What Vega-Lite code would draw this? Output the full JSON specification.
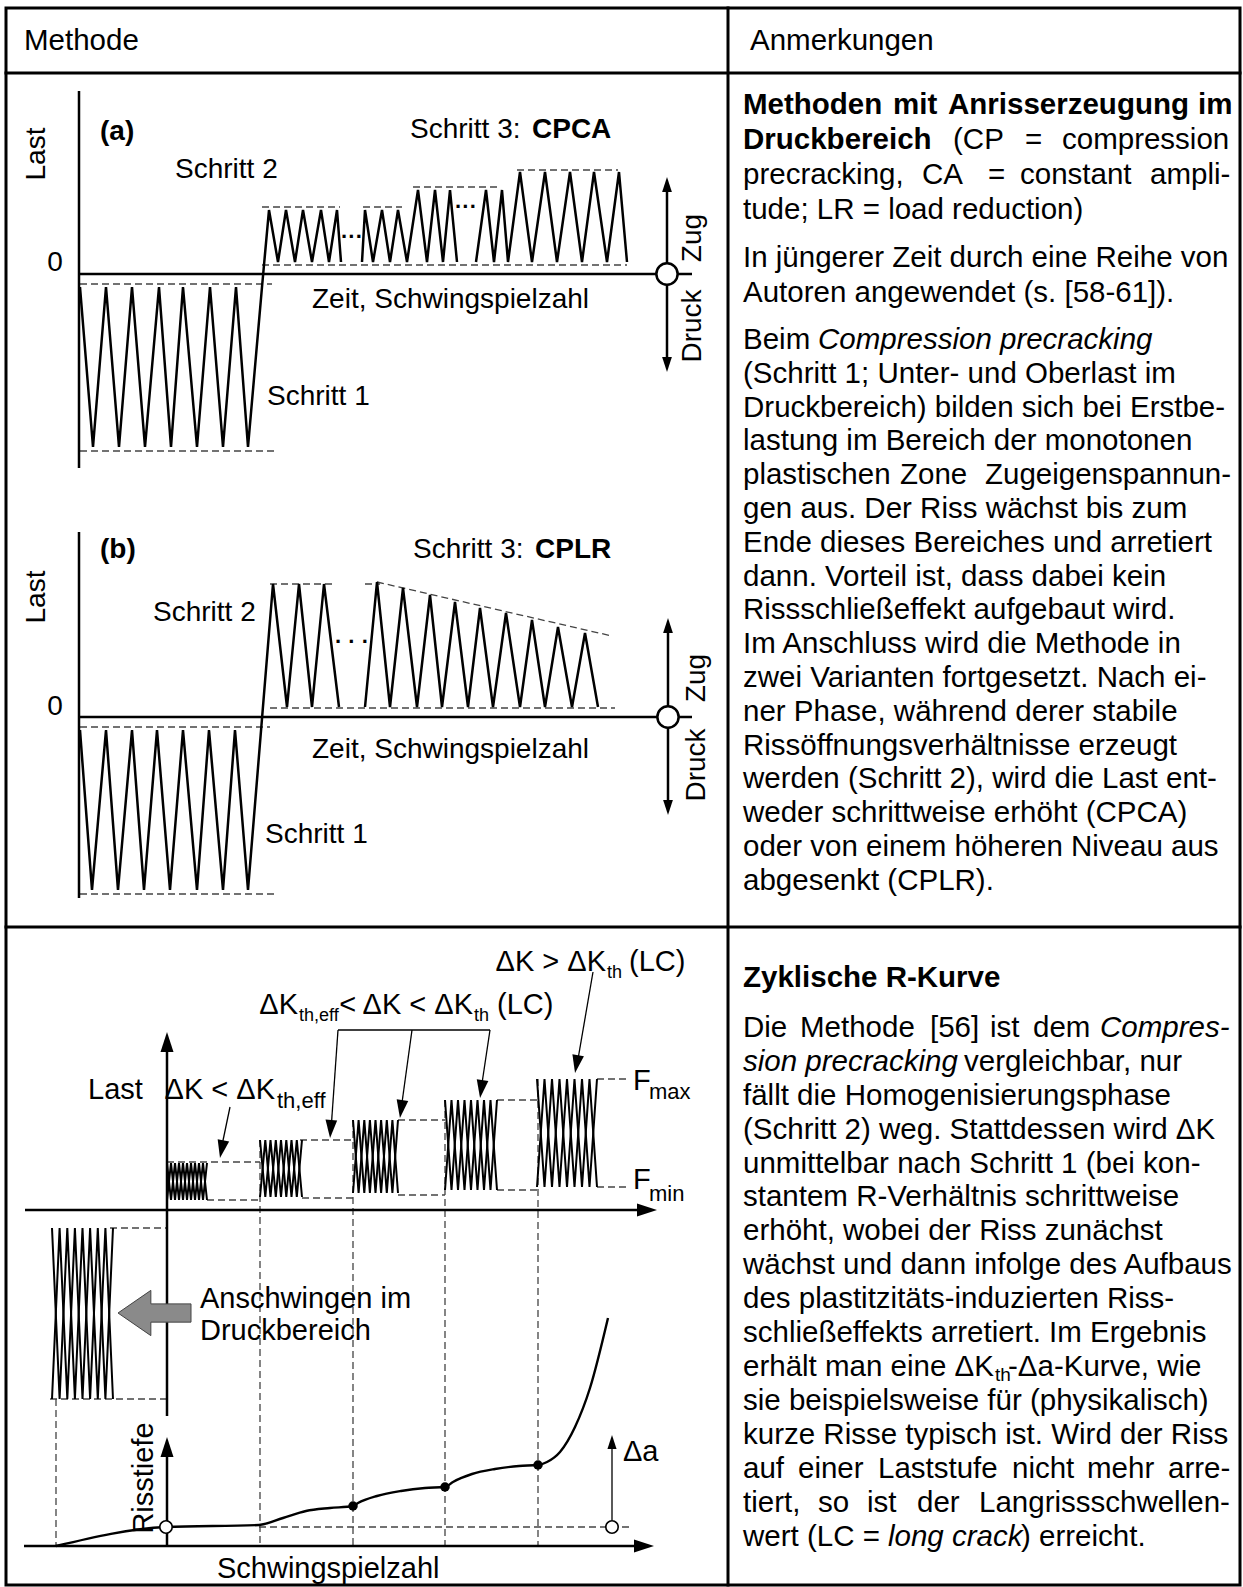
{
"$schema":"https://vega.github.io/schema/vega-lite/v6.json",
"width":1243,"height":1587,"autosize":{"type":"none"},"padding":0,"background":"white",
"config":{"view":{"stroke":null},"text":{"font":"Liberation Sans"}},
"datasets":{
"ln":[
{"g":"b1","k":"border","x":6,"y":8},{"g":"b1","k":"border","x":1240,"y":8},{"g":"b1","k":"border","x":1240,"y":1585},{"g":"b1","k":"border","x":6,"y":1585},{"g":"b1","k":"border","x":6,"y":8},
{"g":"b2","k":"border","x":6,"y":73},{"g":"b2","k":"border","x":1240,"y":73},
{"g":"b3","k":"border","x":6,"y":927},{"g":"b3","k":"border","x":1240,"y":927},
{"g":"b4","k":"border","x":728,"y":8},{"g":"b4","k":"border","x":728,"y":1585},
{"g":"sa1","k":"solid","x":79,"y":91},{"g":"sa1","k":"solid","x":79,"y":468},
{"g":"sa2","k":"solid","x":79,"y":274},{"g":"sa2","k":"solid","x":692,"y":274},
{"g":"sa3","k":"solid","x":667,"y":186},{"g":"sa3","k":"solid","x":667,"y":365},
{"g":"sa4","k":"solid","x":80,"y":287},{"g":"sa4","k":"solid","x":93,"y":447},{"g":"sa4","k":"solid","x":106,"y":287},{"g":"sa4","k":"solid","x":119,"y":447},{"g":"sa4","k":"solid","x":132,"y":287},{"g":"sa4","k":"solid","x":145,"y":447},{"g":"sa4","k":"solid","x":159,"y":287},{"g":"sa4","k":"solid","x":171,"y":447},{"g":"sa4","k":"solid","x":183,"y":287},{"g":"sa4","k":"solid","x":197,"y":447},{"g":"sa4","k":"solid","x":210,"y":287},{"g":"sa4","k":"solid","x":223,"y":447},{"g":"sa4","k":"solid","x":236,"y":287},{"g":"sa4","k":"solid","x":248,"y":447},{"g":"sa4","k":"solid","x":262,"y":287},{"g":"sa4","k":"solid","x":264,"y":265},{"g":"sa4","k":"solid","x":269,"y":210},{"g":"sa4","k":"solid","x":278,"y":262},{"g":"sa4","k":"solid","x":286,"y":210},{"g":"sa4","k":"solid","x":295,"y":262},{"g":"sa4","k":"solid","x":303,"y":210},{"g":"sa4","k":"solid","x":312,"y":262},{"g":"sa4","k":"solid","x":321,"y":210},{"g":"sa4","k":"solid","x":329,"y":262},{"g":"sa4","k":"solid","x":337,"y":210},{"g":"sa4","k":"solid","x":341,"y":262},
{"g":"sa5","k":"solid","x":362,"y":262},{"g":"sa5","k":"solid","x":365,"y":210},{"g":"sa5","k":"solid","x":373,"y":262},{"g":"sa5","k":"solid","x":382,"y":210},{"g":"sa5","k":"solid","x":390,"y":262},{"g":"sa5","k":"solid","x":398,"y":210},{"g":"sa5","k":"solid","x":407,"y":262},{"g":"sa5","k":"solid","x":418,"y":190},{"g":"sa5","k":"solid","x":427,"y":262},{"g":"sa5","k":"solid","x":435,"y":190},{"g":"sa5","k":"solid","x":443,"y":262},{"g":"sa5","k":"solid","x":450,"y":190},{"g":"sa5","k":"solid","x":457,"y":262},
{"g":"sa6","k":"solid","x":476,"y":262},{"g":"sa6","k":"solid","x":486,"y":190},{"g":"sa6","k":"solid","x":494,"y":262},{"g":"sa6","k":"solid","x":502,"y":190},{"g":"sa6","k":"solid","x":508,"y":262},{"g":"sa6","k":"solid","x":520,"y":172},{"g":"sa6","k":"solid","x":532,"y":262},{"g":"sa6","k":"solid","x":545,"y":172},{"g":"sa6","k":"solid","x":557,"y":262},{"g":"sa6","k":"solid","x":570,"y":172},{"g":"sa6","k":"solid","x":582,"y":262},{"g":"sa6","k":"solid","x":594,"y":172},{"g":"sa6","k":"solid","x":607,"y":262},{"g":"sa6","k":"solid","x":619,"y":172},{"g":"sa6","k":"solid","x":627,"y":262},
{"g":"sb1","k":"solid","x":79,"y":532},{"g":"sb1","k":"solid","x":79,"y":898},
{"g":"sb2","k":"solid","x":79,"y":717},{"g":"sb2","k":"solid","x":692,"y":717},
{"g":"sb3","k":"solid","x":668,"y":627},{"g":"sb3","k":"solid","x":668,"y":807},
{"g":"sb4","k":"solid","x":80,"y":730},{"g":"sb4","k":"solid","x":92,"y":890},{"g":"sb4","k":"solid","x":106,"y":730},{"g":"sb4","k":"solid","x":118,"y":890},{"g":"sb4","k":"solid","x":132,"y":730},{"g":"sb4","k":"solid","x":144,"y":890},{"g":"sb4","k":"solid","x":157,"y":730},{"g":"sb4","k":"solid","x":170,"y":890},{"g":"sb4","k":"solid","x":183,"y":730},{"g":"sb4","k":"solid","x":197,"y":890},{"g":"sb4","k":"solid","x":209,"y":730},{"g":"sb4","k":"solid","x":223,"y":890},{"g":"sb4","k":"solid","x":235,"y":730},{"g":"sb4","k":"solid","x":248,"y":890},{"g":"sb4","k":"solid","x":273,"y":584},{"g":"sb4","k":"solid","x":287,"y":707},{"g":"sb4","k":"solid","x":299,"y":584},{"g":"sb4","k":"solid","x":312,"y":707},{"g":"sb4","k":"solid","x":324,"y":584},{"g":"sb4","k":"solid","x":339,"y":707},
{"g":"sb5","k":"solid","x":365,"y":707},{"g":"sb5","k":"solid","x":377,"y":582},{"g":"sb5","k":"solid","x":390,"y":707},{"g":"sb5","k":"solid","x":403,"y":588},{"g":"sb5","k":"solid","x":417,"y":707},{"g":"sb5","k":"solid","x":430,"y":595},{"g":"sb5","k":"solid","x":442,"y":707},{"g":"sb5","k":"solid","x":455,"y":602},{"g":"sb5","k":"solid","x":468,"y":707},{"g":"sb5","k":"solid","x":480,"y":608},{"g":"sb5","k":"solid","x":493,"y":707},{"g":"sb5","k":"solid","x":506,"y":613},{"g":"sb5","k":"solid","x":520,"y":707},{"g":"sb5","k":"solid","x":532,"y":620},{"g":"sb5","k":"solid","x":545,"y":707},{"g":"sb5","k":"solid","x":558,"y":627},{"g":"sb5","k":"solid","x":572,"y":707},{"g":"sb5","k":"solid","x":585,"y":633},{"g":"sb5","k":"solid","x":598,"y":707},
{"g":"sc1","k":"solid","x":167,"y":1044},{"g":"sc1","k":"solid","x":167,"y":1416},
{"g":"sc2","k":"solid","x":25,"y":1210},{"g":"sc2","k":"solid","x":645,"y":1210},
{"g":"sc3","k":"solid","x":167,"y":1546},{"g":"sc3","k":"solid","x":167,"y":1450},
{"g":"sc4","k":"solid","x":24,"y":1546},{"g":"sc4","k":"solid","x":642,"y":1546},
{"g":"G1A","k":"grp","x":167,"y":1200},{"g":"G1A","k":"grp","x":171,"y":1163},{"g":"G1A","k":"grp","x":175,"y":1200},{"g":"G1A","k":"grp","x":179,"y":1163},{"g":"G1A","k":"grp","x":183,"y":1200},{"g":"G1A","k":"grp","x":187,"y":1163},{"g":"G1A","k":"grp","x":191,"y":1200},{"g":"G1A","k":"grp","x":195,"y":1163},{"g":"G1A","k":"grp","x":199,"y":1200},{"g":"G1A","k":"grp","x":203,"y":1163},{"g":"G1A","k":"grp","x":207,"y":1200},
{"g":"G1B","k":"grp","x":167,"y":1163},{"g":"G1B","k":"grp","x":171,"y":1200},{"g":"G1B","k":"grp","x":175,"y":1163},{"g":"G1B","k":"grp","x":179,"y":1200},{"g":"G1B","k":"grp","x":183,"y":1163},{"g":"G1B","k":"grp","x":187,"y":1200},{"g":"G1B","k":"grp","x":191,"y":1163},{"g":"G1B","k":"grp","x":195,"y":1200},{"g":"G1B","k":"grp","x":199,"y":1163},{"g":"G1B","k":"grp","x":203,"y":1200},{"g":"G1B","k":"grp","x":207,"y":1163},
{"g":"G2A","k":"grp","x":260,"y":1197},{"g":"G2A","k":"grp","x":265.3,"y":1140},{"g":"G2A","k":"grp","x":270.5,"y":1197},{"g":"G2A","k":"grp","x":275.8,"y":1140},{"g":"G2A","k":"grp","x":281,"y":1197},{"g":"G2A","k":"grp","x":286.3,"y":1140},{"g":"G2A","k":"grp","x":291.5,"y":1197},{"g":"G2A","k":"grp","x":296.8,"y":1140},{"g":"G2A","k":"grp","x":302,"y":1197},
{"g":"G2B","k":"grp","x":260,"y":1140},{"g":"G2B","k":"grp","x":265.3,"y":1197},{"g":"G2B","k":"grp","x":270.5,"y":1140},{"g":"G2B","k":"grp","x":275.8,"y":1197},{"g":"G2B","k":"grp","x":281,"y":1140},{"g":"G2B","k":"grp","x":286.3,"y":1197},{"g":"G2B","k":"grp","x":291.5,"y":1140},{"g":"G2B","k":"grp","x":296.8,"y":1197},{"g":"G2B","k":"grp","x":302,"y":1140},
{"g":"G3A","k":"grp","x":353,"y":1193},{"g":"G3A","k":"grp","x":358.6,"y":1120},{"g":"G3A","k":"grp","x":364.3,"y":1193},{"g":"G3A","k":"grp","x":369.9,"y":1120},{"g":"G3A","k":"grp","x":375.5,"y":1193},{"g":"G3A","k":"grp","x":381.1,"y":1120},{"g":"G3A","k":"grp","x":386.8,"y":1193},{"g":"G3A","k":"grp","x":392.4,"y":1120},{"g":"G3A","k":"grp","x":398,"y":1193},
{"g":"G3B","k":"grp","x":353,"y":1120},{"g":"G3B","k":"grp","x":358.6,"y":1193},{"g":"G3B","k":"grp","x":364.3,"y":1120},{"g":"G3B","k":"grp","x":369.9,"y":1193},{"g":"G3B","k":"grp","x":375.5,"y":1120},{"g":"G3B","k":"grp","x":381.1,"y":1193},{"g":"G3B","k":"grp","x":386.8,"y":1120},{"g":"G3B","k":"grp","x":392.4,"y":1193},{"g":"G3B","k":"grp","x":398,"y":1120},
{"g":"G4A","k":"grp","x":445,"y":1190},{"g":"G4A","k":"grp","x":451.5,"y":1100},{"g":"G4A","k":"grp","x":458,"y":1190},{"g":"G4A","k":"grp","x":464.5,"y":1100},{"g":"G4A","k":"grp","x":471,"y":1190},{"g":"G4A","k":"grp","x":477.5,"y":1100},{"g":"G4A","k":"grp","x":484,"y":1190},{"g":"G4A","k":"grp","x":490.5,"y":1100},{"g":"G4A","k":"grp","x":497,"y":1190},
{"g":"G4B","k":"grp","x":445,"y":1100},{"g":"G4B","k":"grp","x":451.5,"y":1190},{"g":"G4B","k":"grp","x":458,"y":1100},{"g":"G4B","k":"grp","x":464.5,"y":1190},{"g":"G4B","k":"grp","x":471,"y":1100},{"g":"G4B","k":"grp","x":477.5,"y":1190},{"g":"G4B","k":"grp","x":484,"y":1100},{"g":"G4B","k":"grp","x":490.5,"y":1190},{"g":"G4B","k":"grp","x":497,"y":1100},
{"g":"G5A","k":"grp","x":537,"y":1187},{"g":"G5A","k":"grp","x":544.5,"y":1079},{"g":"G5A","k":"grp","x":552,"y":1187},{"g":"G5A","k":"grp","x":559.5,"y":1079},{"g":"G5A","k":"grp","x":567,"y":1187},{"g":"G5A","k":"grp","x":574.5,"y":1079},{"g":"G5A","k":"grp","x":582,"y":1187},{"g":"G5A","k":"grp","x":589.5,"y":1079},{"g":"G5A","k":"grp","x":597,"y":1187},
{"g":"G5B","k":"grp","x":537,"y":1079},{"g":"G5B","k":"grp","x":544.5,"y":1187},{"g":"G5B","k":"grp","x":552,"y":1079},{"g":"G5B","k":"grp","x":559.5,"y":1187},{"g":"G5B","k":"grp","x":567,"y":1079},{"g":"G5B","k":"grp","x":574.5,"y":1187},{"g":"G5B","k":"grp","x":582,"y":1079},{"g":"G5B","k":"grp","x":589.5,"y":1187},{"g":"G5B","k":"grp","x":597,"y":1079},
{"g":"CA","k":"grp","x":52,"y":1399},{"g":"CA","k":"grp","x":59.6,"y":1228},{"g":"CA","k":"grp","x":67.3,"y":1399},{"g":"CA","k":"grp","x":74.9,"y":1228},{"g":"CA","k":"grp","x":82.5,"y":1399},{"g":"CA","k":"grp","x":90.1,"y":1228},{"g":"CA","k":"grp","x":97.8,"y":1399},{"g":"CA","k":"grp","x":105.4,"y":1228},{"g":"CA","k":"grp","x":113,"y":1399},
{"g":"CB","k":"grp","x":52,"y":1228},{"g":"CB","k":"grp","x":59.6,"y":1399},{"g":"CB","k":"grp","x":67.3,"y":1228},{"g":"CB","k":"grp","x":74.9,"y":1399},{"g":"CB","k":"grp","x":82.5,"y":1228},{"g":"CB","k":"grp","x":90.1,"y":1399},{"g":"CB","k":"grp","x":97.8,"y":1228},{"g":"CB","k":"grp","x":105.4,"y":1399},{"g":"CB","k":"grp","x":113,"y":1228},
{"g":"t1","k":"thin","x":230,"y":1107},{"g":"t1","k":"thin","x":221,"y":1150},
{"g":"t2","k":"thin","x":338,"y":1030},{"g":"t2","k":"thin","x":490,"y":1030},
{"g":"t3","k":"thin","x":338,"y":1030},{"g":"t3","k":"thin","x":331,"y":1130},
{"g":"t4","k":"thin","x":412,"y":1030},{"g":"t4","k":"thin","x":401,"y":1110},
{"g":"t5","k":"thin","x":490,"y":1030},{"g":"t5","k":"thin","x":481,"y":1090},
{"g":"t6","k":"thin","x":593,"y":972},{"g":"t6","k":"thin","x":577,"y":1065},
{"g":"t7","k":"thin","x":612,"y":1520},{"g":"t7","k":"thin","x":612,"y":1442},
{"g":"da1","k":"dash","x":80,"y":284},{"g":"da1","k":"dash","x":272,"y":284},
{"g":"da2","k":"dash","x":80,"y":451},{"g":"da2","k":"dash","x":275,"y":451},
{"g":"da3","k":"dash","x":262,"y":207},{"g":"da3","k":"dash","x":340,"y":207},
{"g":"da4","k":"dash","x":363,"y":207},{"g":"da4","k":"dash","x":402,"y":207},
{"g":"da5","k":"dash","x":413,"y":187},{"g":"da5","k":"dash","x":500,"y":187},
{"g":"da6","k":"dash","x":517,"y":170},{"g":"da6","k":"dash","x":618,"y":170},
{"g":"da7","k":"dash","x":262,"y":265},{"g":"da7","k":"dash","x":627,"y":265},
{"g":"db1","k":"dash","x":80,"y":727},{"g":"db1","k":"dash","x":270,"y":727},
{"g":"db2","k":"dash","x":80,"y":894},{"g":"db2","k":"dash","x":275,"y":894},
{"g":"db3","k":"dash","x":270,"y":584},{"g":"db3","k":"dash","x":332,"y":584},
{"g":"db4","k":"dash","x":365,"y":584},{"g":"db4","k":"dash","x":380,"y":584},
{"g":"db5","k":"dash","x":377,"y":582},{"g":"db5","k":"dash","x":612,"y":636},
{"g":"db6","k":"dash","x":270,"y":708},{"g":"db6","k":"dash","x":615,"y":708},
{"g":"dc1","k":"dash","x":167,"y":1162},{"g":"dc1","k":"dash","x":260,"y":1162},
{"g":"dc2","k":"dash","x":300,"y":1140},{"g":"dc2","k":"dash","x":353,"y":1140},
{"g":"dc3","k":"dash","x":398,"y":1120},{"g":"dc3","k":"dash","x":445,"y":1120},
{"g":"dc4","k":"dash","x":497,"y":1100},{"g":"dc4","k":"dash","x":538,"y":1100},
{"g":"dc5","k":"dash","x":597,"y":1079},{"g":"dc5","k":"dash","x":630,"y":1079},
{"g":"dc6","k":"dash","x":207,"y":1200},{"g":"dc6","k":"dash","x":260,"y":1200},
{"g":"dc7","k":"dash","x":302,"y":1198},{"g":"dc7","k":"dash","x":353,"y":1198},
{"g":"dc8","k":"dash","x":398,"y":1195},{"g":"dc8","k":"dash","x":445,"y":1195},
{"g":"dc9","k":"dash","x":497,"y":1190},{"g":"dc9","k":"dash","x":538,"y":1190},
{"g":"dc10","k":"dash","x":597,"y":1187},{"g":"dc10","k":"dash","x":630,"y":1187},
{"g":"dc11","k":"dash","x":260,"y":1140},{"g":"dc11","k":"dash","x":260,"y":1546},
{"g":"dc12","k":"dash","x":353,"y":1120},{"g":"dc12","k":"dash","x":353,"y":1546},
{"g":"dc13","k":"dash","x":445,"y":1100},{"g":"dc13","k":"dash","x":445,"y":1546},
{"g":"dc14","k":"dash","x":538,"y":1079},{"g":"dc14","k":"dash","x":538,"y":1546},
{"g":"dc15","k":"dash","x":110,"y":1228},{"g":"dc15","k":"dash","x":167,"y":1228},
{"g":"dc16","k":"dash","x":50,"y":1399},{"g":"dc16","k":"dash","x":167,"y":1399},
{"g":"dc17","k":"dash","x":56,"y":1399},{"g":"dc17","k":"dash","x":56,"y":1546},
{"g":"dc18","k":"dash","x":259,"y":1527},{"g":"dc18","k":"dash","x":630,"y":1527},
{"g":"cv","k":"curve","x":56,"y":1546},{"g":"cv","k":"curve","x":166,"y":1527},{"g":"cv","k":"curve","x":259,"y":1525},{"g":"cv","k":"curve","x":283,"y":1518},{"g":"cv","k":"curve","x":306,"y":1511},{"g":"cv","k":"curve","x":330,"y":1508},{"g":"cv","k":"curve","x":353,"y":1506},{"g":"cv","k":"curve","x":358,"y":1503},{"g":"cv","k":"curve","x":377,"y":1496},{"g":"cv","k":"curve","x":401,"y":1491},{"g":"cv","k":"curve","x":425,"y":1488},{"g":"cv","k":"curve","x":445,"y":1487},{"g":"cv","k":"curve","x":453,"y":1482},{"g":"cv","k":"curve","x":472,"y":1474},{"g":"cv","k":"curve","x":495,"y":1469},{"g":"cv","k":"curve","x":519,"y":1466},{"g":"cv","k":"curve","x":538,"y":1465},{"g":"cv","k":"curve","x":547,"y":1462},{"g":"cv","k":"curve","x":560,"y":1452},{"g":"cv","k":"curve","x":575,"y":1427},{"g":"cv","k":"curve","x":590,"y":1388},{"g":"cv","k":"curve","x":608,"y":1318}
],
"pt":[
{"k":"h1","x":667,"y":184.5,"a":0},{"k":"h1","x":667,"y":364.5,"a":180},{"k":"h1","x":668,"y":625.5,"a":0},{"k":"h1","x":668,"y":807.5,"a":180},
{"k":"h2","x":167,"y":1042,"a":0},{"k":"h2","x":647,"y":1210,"a":90},{"k":"h2","x":644,"y":1546,"a":90},{"k":"h2","x":167,"y":1447,"a":0},
{"k":"h3","x":221.7,"y":1149.2,"a":191},{"k":"h3","x":330.7,"y":1129,"a":184},{"k":"h3","x":401.2,"y":1109.1,"a":188},{"k":"h3","x":481.3,"y":1089.1,"a":188},{"k":"h3","x":576.6,"y":1064.1,"a":190},
{"k":"h4","x":612,"y":1442,"a":0},
{"k":"cb","x":667,"y":274,"a":0},{"k":"cb","x":668,"y":717,"a":0},
{"k":"co","x":166,"y":1527,"a":0},{"k":"co","x":612,"y":1527,"a":0},
{"k":"cd","x":353,"y":1506,"a":0},{"k":"cd","x":445,"y":1487,"a":0},{"k":"cd","x":538,"y":1465,"a":0},
{"k":"gray","x":154.5,"y":1313,"a":0}
],
"tx":[
{"t":"Methode","x":24,"y":41,"k":"r"},
{"t":"Anmerkungen","x":750,"y":41,"k":"r"},
{"t":"Methoden","x":743,"y":105,"k":"rb"},
{"t":"mit","x":893,"y":105,"k":"rb"},
{"t":"Anrisserzeugung","x":948,"y":105,"k":"rb"},
{"t":"im","x":1198,"y":105,"k":"rb"},
{"t":"Druckbereich","x":743,"y":140,"k":"rb"},
{"t":"(CP","x":953,"y":140,"k":"r"},
{"t":"=","x":1025,"y":140,"k":"r"},
{"t":"compression","x":1062,"y":140,"k":"r"},
{"t":"precracking,","x":743,"y":175,"k":"r"},
{"t":"CA","x":922,"y":175,"k":"r"},
{"t":"=","x":988,"y":175,"k":"r"},
{"t":"constant","x":1020,"y":175,"k":"r"},
{"t":"ampli-","x":1150,"y":175,"k":"r"},
{"t":"tude; LR = load reduction)","x":743,"y":210,"k":"r"},
{"t":"In jüngerer Zeit durch eine Reihe von","x":743,"y":258,"k":"r"},
{"t":"Autoren angewendet (s. [58-61]).","x":743,"y":293,"k":"r"},
{"t":"Beim","x":743,"y":340,"k":"r"},
{"t":"Compression precracking","x":818,"y":340,"k":"ri"},
{"t":"(Schritt 1; Unter- und Oberlast im","x":743,"y":374,"k":"r"},
{"t":"Druckbereich) bilden sich bei Erstbe-","x":743,"y":408,"k":"r"},
{"t":"lastung im Bereich der monotonen","x":743,"y":441,"k":"r"},
{"t":"plastischen","x":743,"y":475,"k":"r"},
{"t":"Zone","x":900,"y":475,"k":"r"},
{"t":"Zugeigenspannun-","x":985,"y":475,"k":"r"},
{"t":"gen aus. Der Riss wächst bis zum","x":743,"y":509,"k":"r"},
{"t":"Ende dieses Bereiches und arretiert","x":743,"y":543,"k":"r"},
{"t":"dann. Vorteil ist, dass dabei kein","x":743,"y":577,"k":"r"},
{"t":"Rissschließeffekt aufgebaut wird.","x":743,"y":610,"k":"r"},
{"t":"Im Anschluss wird die Methode in","x":743,"y":644,"k":"r"},
{"t":"zwei Varianten fortgesetzt. Nach ei-","x":743,"y":678,"k":"r"},
{"t":"ner Phase, während derer stabile","x":743,"y":712,"k":"r"},
{"t":"Rissöffnungsverhältnisse erzeugt","x":743,"y":746,"k":"r"},
{"t":"werden (Schritt 2), wird die Last ent-","x":743,"y":779,"k":"r"},
{"t":"weder schrittweise erhöht (CPCA)","x":743,"y":813,"k":"r"},
{"t":"oder von einem höheren Niveau aus","x":743,"y":847,"k":"r"},
{"t":"abgesenkt (CPLR).","x":743,"y":881,"k":"r"},
{"t":"Zyklische R-Kurve","x":743,"y":978,"k":"rb"},
{"t":"Die","x":743,"y":1028,"k":"r"},
{"t":"Methode","x":800,"y":1028,"k":"r"},
{"t":"[56]","x":930,"y":1028,"k":"r"},
{"t":"ist","x":990,"y":1028,"k":"r"},
{"t":"dem","x":1033,"y":1028,"k":"r"},
{"t":"Compres-","x":1100,"y":1028,"k":"ri"},
{"t":"sion precracking","x":743,"y":1062,"k":"ri"},
{"t":"vergleichbar, nur","x":964,"y":1062,"k":"r"},
{"t":"fällt die Homogenisierungsphase","x":743,"y":1096,"k":"r"},
{"t":"(Schritt 2) weg. Stattdessen wird ΔK","x":743,"y":1130,"k":"r"},
{"t":"unmittelbar nach Schritt 1 (bei kon-","x":743,"y":1164,"k":"r"},
{"t":"stantem R-Verhältnis schrittweise","x":743,"y":1197,"k":"r"},
{"t":"erhöht, wobei der Riss zunächst","x":743,"y":1231,"k":"r"},
{"t":"wächst und dann infolge des Aufbaus","x":743,"y":1265,"k":"r"},
{"t":"des plastitzitäts-induzierten Riss-","x":743,"y":1299,"k":"r"},
{"t":"schließeffekts arretiert. Im Ergebnis","x":743,"y":1333,"k":"r"},
{"t":"erhält man eine ΔK","x":743,"y":1367,"k":"r"},
{"t":"th","x":995,"y":1375,"k":"rs"},
{"t":"-Δa-Kurve, wie","x":1008,"y":1367,"k":"r"},
{"t":"sie beispielsweise für (physikalisch)","x":743,"y":1401,"k":"r"},
{"t":"kurze Risse typisch ist. Wird der Riss","x":743,"y":1435,"k":"r"},
{"t":"auf","x":743,"y":1469,"k":"r"},
{"t":"einer","x":798,"y":1469,"k":"r"},
{"t":"Laststufe","x":878,"y":1469,"k":"r"},
{"t":"nicht","x":1012,"y":1469,"k":"r"},
{"t":"mehr","x":1087,"y":1469,"k":"r"},
{"t":"arre-","x":1168,"y":1469,"k":"r"},
{"t":"tiert,","x":743,"y":1503,"k":"r"},
{"t":"so","x":818,"y":1503,"k":"r"},
{"t":"ist","x":867,"y":1503,"k":"r"},
{"t":"der","x":917,"y":1503,"k":"r"},
{"t":"Langrissschwellen-","x":979,"y":1503,"k":"r"},
{"t":"wert (LC =","x":743,"y":1537,"k":"r"},
{"t":"long crack","x":888,"y":1537,"k":"ri"},
{"t":") erreicht.","x":1021,"y":1537,"k":"r"},
{"t":"Last","x":37,"y":154,"k":"dv"},
{"t":"(a)","x":100,"y":132,"k":"db"},
{"t":"Schritt 2","x":175,"y":170,"k":"d"},
{"t":"Schritt 3:","x":410,"y":130,"k":"d"},
{"t":"CPCA","x":532,"y":130,"k":"db"},
{"t":"0","x":55,"y":263,"k":"dc"},
{"t":"Zeit, Schwingspielzahl","x":312,"y":300,"k":"d"},
{"t":"Schritt 1","x":267,"y":397,"k":"d"},
{"t":"Zug","x":693,"y":238,"k":"dv"},
{"t":"Druck","x":693,"y":326,"k":"dv"},
{"t":"···","x":352,"y":237,"k":"dots"},
{"t":"···","x":466,"y":207,"k":"dots"},
{"t":"Last","x":37,"y":597,"k":"dv"},
{"t":"(b)","x":100,"y":550,"k":"db"},
{"t":"Schritt 2","x":153,"y":613,"k":"d"},
{"t":"Schritt 3:","x":413,"y":550,"k":"d"},
{"t":"CPLR","x":535,"y":550,"k":"db"},
{"t":"0","x":55,"y":707,"k":"dc"},
{"t":"Zeit, Schwingspielzahl","x":312,"y":750,"k":"d"},
{"t":"Schritt 1","x":265,"y":835,"k":"d"},
{"t":"Zug","x":697,"y":678,"k":"dv"},
{"t":"Druck","x":697,"y":765,"k":"dv"},
{"t":"· · ·","x":352,"y":642,"k":"dots"},
{"t":"Last","x":88,"y":1090,"k":"c"},
{"t":"ΔK < ΔK","x":275,"y":1090,"k":"cr"},
{"t":"th,eff","x":277,"y":1101,"k":"cs"},
{"t":"ΔK","x":298,"y":1005,"k":"cr"},
{"t":"th,eff","x":299,"y":1016,"k":"cs2"},
{"t":"< ΔK < ΔK","x":473,"y":1005,"k":"cr"},
{"t":"th","x":474,"y":1016,"k":"cs2"},
{"t":"(LC)","x":497,"y":1005,"k":"c"},
{"t":"ΔK > ΔK","x":606,"y":962,"k":"cr"},
{"t":"th","x":607,"y":973,"k":"cs2"},
{"t":"(LC)","x":629,"y":962,"k":"c"},
{"t":"F","x":633,"y":1081,"k":"c"},
{"t":"max","x":649,"y":1092,"k":"cs"},
{"t":"F","x":633,"y":1180,"k":"c"},
{"t":"min","x":649,"y":1194,"k":"cs"},
{"t":"Anschwingen im","x":200,"y":1299,"k":"c"},
{"t":"Druckbereich","x":200,"y":1331,"k":"c"},
{"t":"Risstiefe","x":144,"y":1478,"k":"cv"},
{"t":"Δa","x":623,"y":1452,"k":"c"},
{"t":"Schwingspielzahl","x":217,"y":1569,"k":"c"}
]
},
"encoding":{
"x":{"field":"x","type":"quantitative","scale":{"domain":[0,1243],"nice":false,"zero":false},"axis":null},
"y":{"field":"y","type":"quantitative","scale":{"domain":[0,1587],"nice":false,"zero":false,"reverse":true},"axis":null}
},
"layer":[
{"data":{"name":"ln"},"transform":[{"filter":"datum.k=='dash'"}],"mark":{"type":"line","color":"#444444","strokeWidth":1.3,"strokeDash":[7,4]},"encoding":{"detail":{"field":"g"},"order":{"value":null}}},
{"data":{"name":"ln"},"transform":[{"filter":"datum.k=='border'"}],"mark":{"type":"line","color":"black","strokeWidth":3,"strokeCap":"square"},"encoding":{"detail":{"field":"g"},"order":{"value":null}}},
{"data":{"name":"ln"},"transform":[{"filter":"datum.k=='solid'"}],"mark":{"type":"line","color":"black","strokeWidth":2.5,"strokeJoin":"miter"},"encoding":{"detail":{"field":"g"},"order":{"value":null}}},
{"data":{"name":"ln"},"transform":[{"filter":"datum.k=='grp'"}],"mark":{"type":"line","color":"black","strokeWidth":2},"encoding":{"detail":{"field":"g"},"order":{"value":null}}},
{"data":{"name":"ln"},"transform":[{"filter":"datum.k=='thin'"}],"mark":{"type":"line","color":"black","strokeWidth":1.3},"encoding":{"detail":{"field":"g"},"order":{"value":null}}},
{"data":{"name":"ln"},"transform":[{"filter":"datum.k=='curve'"}],"mark":{"type":"line","color":"black","strokeWidth":2.4,"interpolate":"monotone"},"encoding":{"detail":{"field":"g"},"order":{"value":null}}},
{"data":{"name":"pt"},"transform":[{"filter":"datum.k=='h1'"}],"mark":{"type":"point","shape":"M0,-1L0.65,1L-0.65,1Z","filled":true,"color":"black","opacity":1,"size":225},"encoding":{"angle":{"field":"a","type":"quantitative","scale":null}}},
{"data":{"name":"pt"},"transform":[{"filter":"datum.k=='h2'"}],"mark":{"type":"point","shape":"M0,-1L0.65,1L-0.65,1Z","filled":true,"color":"black","opacity":1,"size":400},"encoding":{"angle":{"field":"a","type":"quantitative","scale":null}}},
{"data":{"name":"pt"},"transform":[{"filter":"datum.k=='h3'"}],"mark":{"type":"point","shape":"M0,-1L0.65,1L-0.65,1Z","filled":true,"color":"black","opacity":1,"size":324},"encoding":{"angle":{"field":"a","type":"quantitative","scale":null}}},
{"data":{"name":"pt"},"transform":[{"filter":"datum.k=='h4'"}],"mark":{"type":"point","shape":"M0,-1L0.65,1L-0.65,1Z","filled":true,"color":"black","opacity":1,"size":196},"encoding":{"angle":{"field":"a","type":"quantitative","scale":null}}},
{"data":{"name":"pt"},"transform":[{"filter":"datum.k=='cb'"}],"mark":{"type":"point","shape":"circle","filled":true,"fill":"white","stroke":"black","strokeWidth":2.5,"opacity":1,"size":452}},
{"data":{"name":"pt"},"transform":[{"filter":"datum.k=='co'"}],"mark":{"type":"point","shape":"circle","filled":true,"fill":"white","stroke":"black","strokeWidth":1.6,"opacity":1,"size":154}},
{"data":{"name":"pt"},"transform":[{"filter":"datum.k=='cd'"}],"mark":{"type":"point","shape":"circle","filled":true,"color":"black","opacity":1,"size":90}},
{"data":{"name":"pt"},"transform":[{"filter":"datum.k=='gray'"}],"mark":{"type":"point","shape":"M-1,0L-0.1,-0.62L-0.1,-0.25L1,-0.25L1,0.25L-0.1,0.25L-0.1,0.62Z","filled":true,"fill":"#8a8a8a","stroke":"#444444","strokeWidth":1,"opacity":1,"size":5329}},
{"data":{"name":"tx"},"transform":[{"filter":"datum.k=='r'"}],"mark":{"type":"text","fontSize":29.5,"align":"left","baseline":"middle","color":"black"},"encoding":{"text":{"field":"t"}}},
{"data":{"name":"tx"},"transform":[{"filter":"datum.k=='rb'"}],"mark":{"type":"text","fontSize":29.5,"fontWeight":"bold","align":"left","baseline":"middle","color":"black"},"encoding":{"text":{"field":"t"}}},
{"data":{"name":"tx"},"transform":[{"filter":"datum.k=='ri'"}],"mark":{"type":"text","fontSize":29.5,"fontStyle":"italic","align":"left","baseline":"middle","color":"black"},"encoding":{"text":{"field":"t"}}},
{"data":{"name":"tx"},"transform":[{"filter":"datum.k=='rs'"}],"mark":{"type":"text","fontSize":19,"align":"left","baseline":"middle","color":"black"},"encoding":{"text":{"field":"t"}}},
{"data":{"name":"tx"},"transform":[{"filter":"datum.k=='d'"}],"mark":{"type":"text","fontSize":28,"align":"left","baseline":"middle","color":"black"},"encoding":{"text":{"field":"t"}}},
{"data":{"name":"tx"},"transform":[{"filter":"datum.k=='dc'"}],"mark":{"type":"text","fontSize":28,"align":"center","baseline":"middle","color":"black"},"encoding":{"text":{"field":"t"}}},
{"data":{"name":"tx"},"transform":[{"filter":"datum.k=='db'"}],"mark":{"type":"text","fontSize":28,"fontWeight":"bold","align":"left","baseline":"middle","color":"black"},"encoding":{"text":{"field":"t"}}},
{"data":{"name":"tx"},"transform":[{"filter":"datum.k=='dv'"}],"mark":{"type":"text","fontSize":28,"angle":270,"align":"center","baseline":"middle","color":"black"},"encoding":{"text":{"field":"t"}}},
{"data":{"name":"tx"},"transform":[{"filter":"datum.k=='dots'"}],"mark":{"type":"text","fontSize":22,"fontWeight":"bold","align":"center","baseline":"middle","color":"black"},"encoding":{"text":{"field":"t"}}},
{"data":{"name":"tx"},"transform":[{"filter":"datum.k=='c'"}],"mark":{"type":"text","fontSize":29,"align":"left","baseline":"middle","color":"black"},"encoding":{"text":{"field":"t"}}},
{"data":{"name":"tx"},"transform":[{"filter":"datum.k=='cr'"}],"mark":{"type":"text","fontSize":29,"align":"right","baseline":"middle","color":"black"},"encoding":{"text":{"field":"t"}}},
{"data":{"name":"tx"},"transform":[{"filter":"datum.k=='cs'"}],"mark":{"type":"text","fontSize":22,"align":"left","baseline":"middle","color":"black"},"encoding":{"text":{"field":"t"}}},
{"data":{"name":"tx"},"transform":[{"filter":"datum.k=='cs2'"}],"mark":{"type":"text","fontSize":18,"align":"left","baseline":"middle","color":"black"},"encoding":{"text":{"field":"t"}}},
{"data":{"name":"tx"},"transform":[{"filter":"datum.k=='cv'"}],"mark":{"type":"text","fontSize":29,"angle":270,"align":"center","baseline":"middle","color":"black"},"encoding":{"text":{"field":"t"}}}
]
}
